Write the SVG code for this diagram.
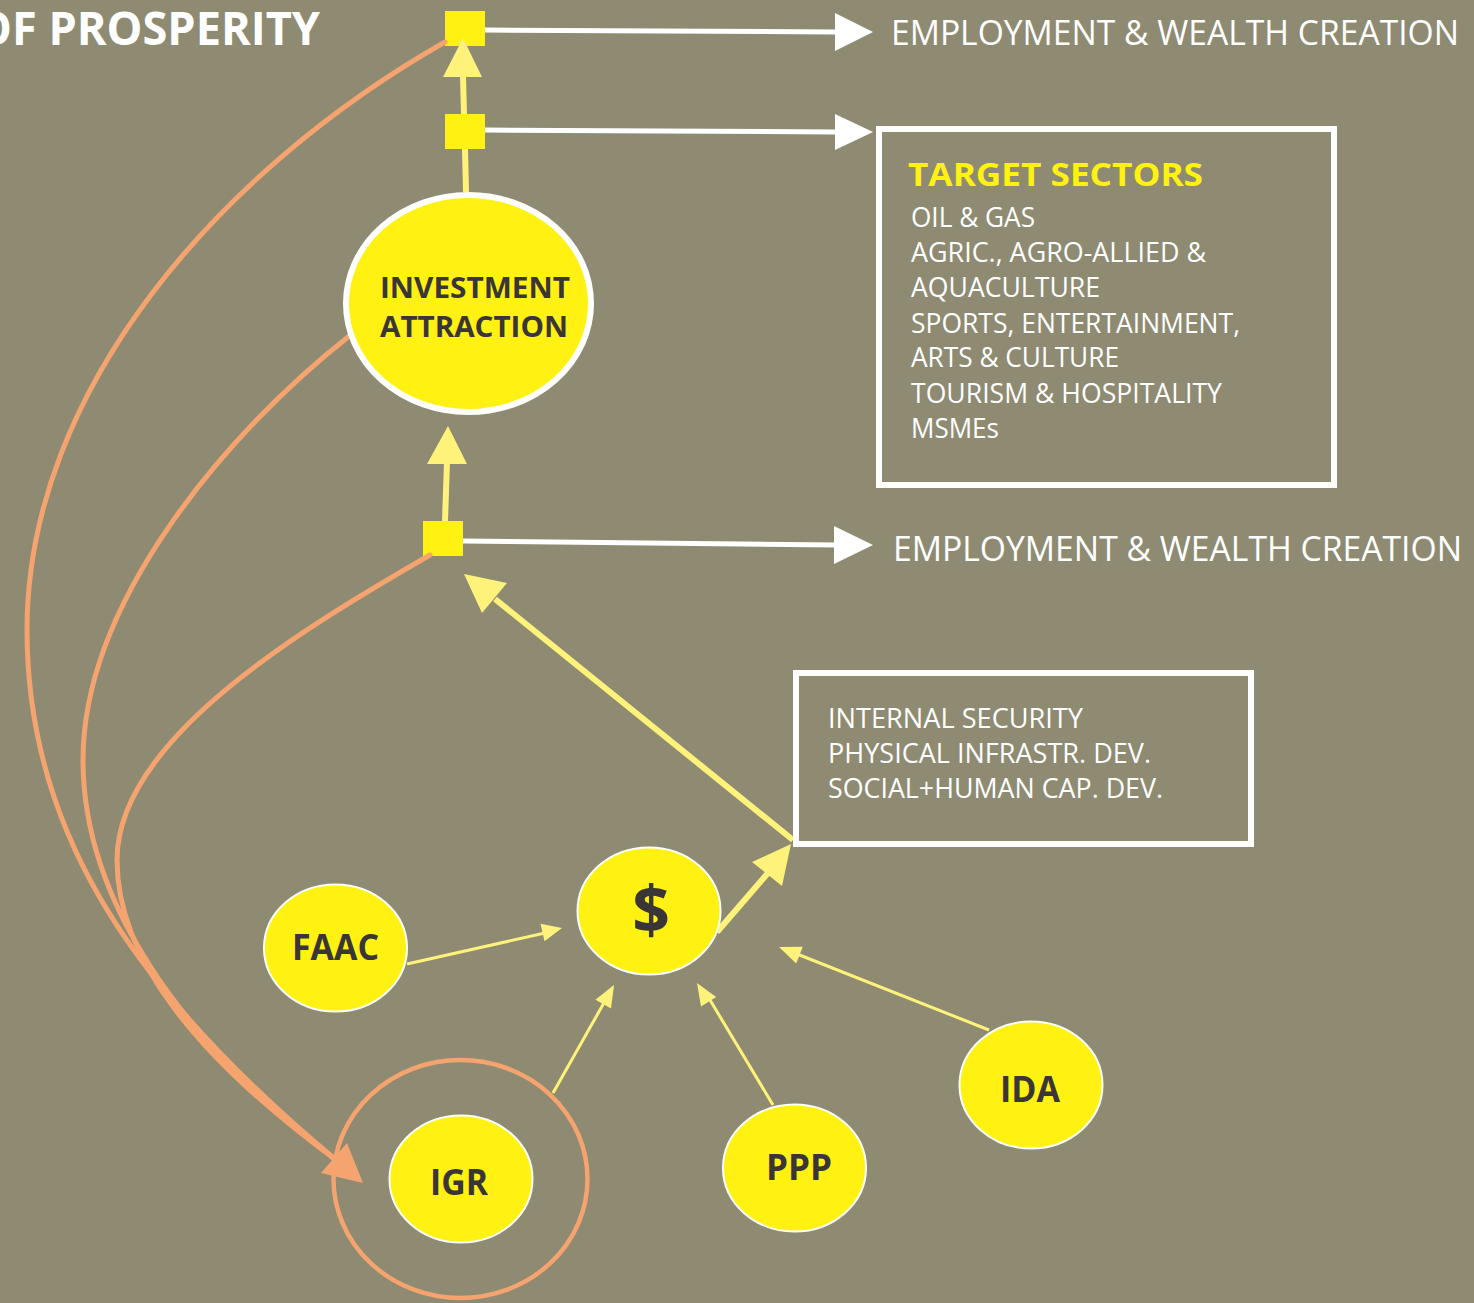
<svg xmlns="http://www.w3.org/2000/svg" width="1474" height="1303" viewBox="0 0 1474 1303">
<style>
.bg{fill:#8E8B72}
.sq{fill:#FFF112}
.nd{fill:#FFF112;stroke:#FFFFFF;stroke-width:2}
.lbl{font-family:"Open Sans","Noto Sans","Liberation Sans",sans-serif;font-weight:700;fill:#3A3537}
.wt{font-family:"Open Sans","Noto Sans","Liberation Sans",sans-serif;fill:#FFFFFF}
.orange{fill:none;stroke:#F5A46F;stroke-width:5;stroke-linecap:round}
.wline{fill:none;stroke:#FFFFFF;stroke-width:5}
.yline{fill:none;stroke:#FEF27B;stroke-width:6}
.ythin{fill:none;stroke:#FEF27B;stroke-width:3}
.yhead{fill:#FEF27B}
.whead{fill:#FFFFFF}
.box{fill:none;stroke:#FFFFFF;stroke-width:6}
</style>
<rect class="bg" x="0" y="0" width="1474" height="1303"/>
<text class="wt" x="-24" y="45" font-size="46" font-weight="700" textLength="344" lengthAdjust="spacingAndGlyphs">OF PROSPERITY</text>

<g id="square-top"><rect class="sq" x="445" y="11" width="40" height="35"/></g>
<g id="square-mid"><rect class="sq" x="445" y="114" width="40" height="35"/></g>
<g id="square-low"><rect class="sq" x="423" y="521" width="40" height="35"/></g>

<g id="connectors">
  <path class="orange" d="M445,42 C220,170 27,390 27,630 C27,820 120,980 336,1160"/>
  <path class="orange" d="M348,337 C230,430 83,600 83,760 C83,900 180,1040 336,1160"/>
  <path class="orange" d="M430,555 C300,630 117,740 117,860 C117,960 200,1060 336,1160"/>
  <polygon fill="#F5A46F" points="363,1183 321,1173 347,1143"/>

  <path class="wline" d="M485,30 L836,32"/>
  <polygon class="whead" points="835,13 873,32 835,51"/>
  <path class="wline" d="M485,130 L836,132"/>
  <polygon class="whead" points="835,114 873,132 835,150"/>
  <path class="wline" d="M463,541 L836,545"/>
  <polygon class="whead" points="834,526 873,545 834,564"/>

  <path class="yline" d="M466,192 L465,149"/>
  <path class="yline" d="M464,114 L463,76"/>
  <polygon class="yhead" points="463,38 482,77 443,77"/>
  <path class="yline" d="M445,521 L447,462"/>
  <polygon class="yhead" points="448,426 467,464 427,464"/>
  <path class="yline" d="M793,840 L495,599"/>
  <polygon class="yhead" points="464,574 482,613 507,583"/>
  <path class="yline" d="M717,932 L768,873"/>
  <polygon class="yhead" points="791,844 752,862 782,886"/>

  <path class="ythin" d="M407,964 L545,933"/>
  <polygon class="yhead" points="562,928 540.5,923.7 544.5,941.3"/>
  <path class="ythin" d="M553,1093 L605,1001"/>
  <polygon class="yhead" points="614,985 611,1008.6 595.4,999.8"/>
  <path class="ythin" d="M773,1105 L710,1000"/>
  <polygon class="yhead" points="697,983 716.2,996.9 701,1006.5"/>
  <path class="ythin" d="M989,1030 L797,954"/>
  <polygon class="yhead" points="779,947 802.8,946.7 796.2,963.5"/>
</g>

<g id="node-investment">
  <ellipse cx="468.5" cy="303.5" rx="122.5" ry="108.5" fill="#FFF112" stroke="#FFFFFF" stroke-width="6"/>
  <text class="lbl" x="380" y="298" font-size="29" textLength="190" lengthAdjust="spacingAndGlyphs">INVESTMENT</text>
  <text class="lbl" x="380" y="337" font-size="29" textLength="188" lengthAdjust="spacingAndGlyphs">ATTRACTION</text>
</g>

<g id="employment-top">
  <text class="wt" x="891" y="45" font-size="35" textLength="568" lengthAdjust="spacingAndGlyphs">EMPLOYMENT &amp; WEALTH CREATION</text>
</g>
<g id="employment-low">
  <text class="wt" x="893" y="561" font-size="35" textLength="569" lengthAdjust="spacingAndGlyphs">EMPLOYMENT &amp; WEALTH CREATION</text>
</g>

<g id="target-sectors">
  <rect class="box" x="879" y="129" width="455" height="356"/>
  <text x="908" y="186" font-family="Open Sans, Noto Sans, Liberation Sans, sans-serif" font-weight="700" font-size="33" fill="#FFF112" textLength="295" lengthAdjust="spacingAndGlyphs">TARGET SECTORS</text>
  <text class="wt" x="911" y="227" font-size="27" textLength="124" lengthAdjust="spacingAndGlyphs">OIL &amp; GAS</text>
  <text class="wt" x="911" y="262" font-size="27" textLength="295" lengthAdjust="spacingAndGlyphs">AGRIC., AGRO-ALLIED &amp;</text>
  <text class="wt" x="911" y="297" font-size="27" textLength="189" lengthAdjust="spacingAndGlyphs">AQUACULTURE</text>
  <text class="wt" x="911" y="333" font-size="27" textLength="329" lengthAdjust="spacingAndGlyphs">SPORTS, ENTERTAINMENT,</text>
  <text class="wt" x="911" y="367" font-size="27" textLength="208" lengthAdjust="spacingAndGlyphs">ARTS &amp; CULTURE</text>
  <text class="wt" x="911" y="403" font-size="27" textLength="311" lengthAdjust="spacingAndGlyphs">TOURISM &amp; HOSPITALITY</text>
  <text class="wt" x="911" y="438" font-size="27" textLength="88" lengthAdjust="spacingAndGlyphs">MSMEs</text>
</g>

<g id="priorities">
  <rect class="box" x="796" y="673" width="455" height="171"/>
  <text class="wt" x="828" y="728" font-size="27" textLength="255" lengthAdjust="spacingAndGlyphs">INTERNAL SECURITY</text>
  <text class="wt" x="828" y="763" font-size="27" textLength="323" lengthAdjust="spacingAndGlyphs">PHYSICAL INFRASTR. DEV.</text>
  <text class="wt" x="828" y="798" font-size="27" textLength="335" lengthAdjust="spacingAndGlyphs">SOCIAL+HUMAN CAP. DEV.</text>
</g>

<g id="node-dollar">
  <ellipse class="nd" cx="649" cy="911" rx="71.5" ry="63.5"/>
  <text class="lbl" x="651" y="934" font-size="66" text-anchor="middle">$</text>
</g>
<g id="node-faac">
  <ellipse class="nd" cx="335.5" cy="948" rx="71.5" ry="63.5"/>
  <text class="lbl" x="292" y="960" font-size="35" textLength="87" lengthAdjust="spacingAndGlyphs">FAAC</text>
</g>
<g id="node-igr">
  <ellipse fill="none" stroke="#F5A46F" stroke-width="4.5" cx="460.5" cy="1179" rx="127" ry="119"/>
  <ellipse class="nd" cx="461" cy="1179" rx="71.5" ry="63.5"/>
  <text class="lbl" x="430" y="1195" font-size="35" textLength="58" lengthAdjust="spacingAndGlyphs">IGR</text>
</g>
<g id="node-ppp">
  <ellipse class="nd" cx="794.5" cy="1168" rx="71.5" ry="63.5"/>
  <text class="lbl" x="766" y="1180" font-size="35" textLength="66" lengthAdjust="spacingAndGlyphs">PPP</text>
</g>
<g id="node-ida">
  <ellipse class="nd" cx="1031" cy="1085" rx="71.5" ry="63.5"/>
  <text class="lbl" x="1000" y="1102" font-size="35" textLength="60" lengthAdjust="spacingAndGlyphs">IDA</text>
</g>
</svg>
